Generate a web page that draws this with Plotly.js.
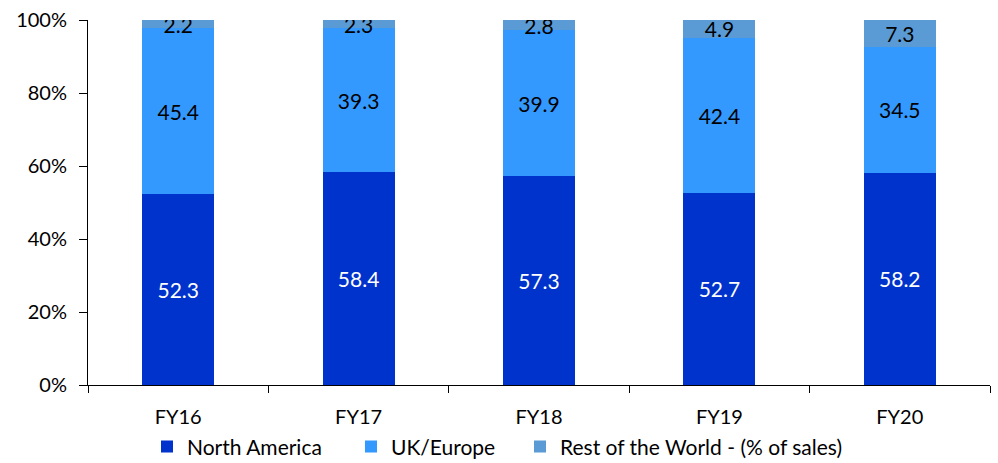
<!DOCTYPE html>
<html>
<head>
<meta charset="utf-8">
<script src="https://cdn.plot.ly/plotly-3.0.1.min.js"></script>
<style>html,body{margin:0;padding:0;background:#fff;}#chart{width:998px;height:463px;}</style>
</head>
<body>
<div id="chart"></div>
<script>
const categories = ["FY16", "FY17", "FY18", "FY19", "FY20"];
const northAmerica = [52.3, 58.4, 57.3, 52.7, 58.2];
const ukEurope = [45.4, 39.3, 39.9, 42.4, 34.5];
const restOfWorld = [2.2, 2.3, 2.8, 4.9, 7.3];
const seriesNames = ["North America", "UK/Europe", "Rest of the World - (% of sales)"];

const font = "Lato, 'Open Sans', sans-serif";
function trace(name, vals, color, textColor, legendId) {
  return {
    type: "bar", name: name, x: categories, y: vals, legend: legendId,
    marker: {color: color, line: {width: 0}},
    text: vals.map(v => v.toFixed(1)),
    textposition: "inside", insidetextanchor: "middle",
    constraintext: "none", textangle: 0,
    textfont: {family: font, size: 21, color: textColor},
    hoverinfo: "skip"
  };
}
const data = [
  trace(seriesNames[0], northAmerica, "#0033CC", "#ffffff", "legend"),
  trace(seriesNames[1], ukEurope, "#3399FF", "#000000", "legend2"),
  trace(seriesNames[2], restOfWorld, "#5B9BD5", "#000000", "legend3")
];
function leg(px) {
  return {orientation: "h", xref: "container", x: px / 998, xanchor: "left",
    yref: "container", y: 0.035, yanchor: "middle",
    font: {family: font, size: 21, color: "#000"}, itemwidth: 30, bgcolor: "rgba(0,0,0,0)"};
}
const layout = {
  width: 998, height: 463,
  margin: {l: 88, r: 8, t: 20, b: 78, autoexpand: false},
  barmode: "stack", bargap: 0.6,
  paper_bgcolor: "#fff", plot_bgcolor: "#fff",
  font: {family: font, size: 20, color: "#000"},
  xaxis: {
    type: "category", showgrid: false, showline: true, linecolor: "#000", linewidth: 1,
    ticks: "outside", tickson: "boundaries", ticklen: 7, tickcolor: "#000",
    ticklabelstandoff: 14,
    tickfont: {family: font, size: 20, color: "#000"}
  },
  yaxis: {
    range: [0, 100], tickvals: [0, 20, 40, 60, 80, 100], ticktext: ["0%", "20%", "40%", "60%", "80%", "100%"],
    showgrid: false, showline: true, linecolor: "#000", linewidth: 1, zeroline: false,
    ticks: "outside", ticklen: 8, tickcolor: "#000",
    ticklabelstandoff: 8,
    tickfont: {family: font, size: 20, color: "#000"}
  },
  showlegend: true,
  legend: leg(147),
  legend2: leg(351),
  legend3: leg(520)
};
Plotly.newPlot("chart", data, layout, {displayModeBar: false, staticPlot: true});
</script>
</body>
</html>
